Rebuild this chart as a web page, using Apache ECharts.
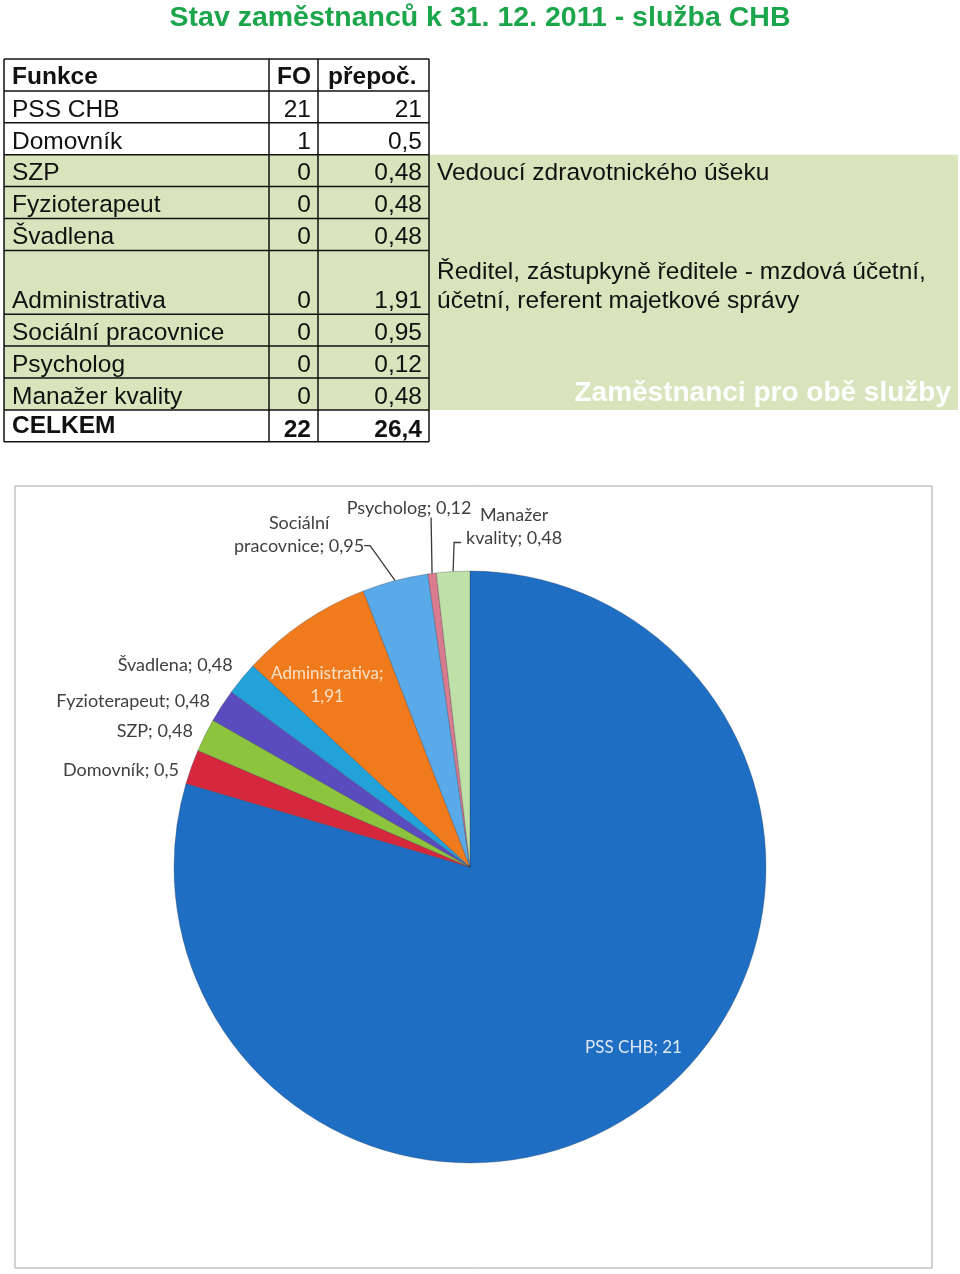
<!DOCTYPE html>
<html><head><meta charset="utf-8">
<script src="https://cdn.jsdelivr.net/npm/echarts@6/dist/echarts.min.js"></script>
<style>html,body{margin:0;padding:0;background:#fff}#c{width:960px;height:1274px}</style>
</head><body><div id="c"></div>
<script>
// ---- data ----
const titleText = 'Stav zaměstnanců k 31. 12. 2011 - služba CHB';
const headers = ['Funkce', 'FO', 'přepoč.'];
const functions = ['PSS CHB', 'Domovník', 'SZP', 'Fyzioterapeut', 'Švadlena', 'Administrativa', 'Sociální pracovnice', 'Psycholog', 'Manažer kvality'];
const foValues = [21, 1, 0, 0, 0, 0, 0, 0, 0];
const prepocValues = [21, 0.5, 0.48, 0.48, 0.48, 1.91, 0.95, 0.12, 0.48];
const totalName = 'CELKEM';
const totalFO = 22;
const totalPrepoc = 26.4;
const noteSZP = 'Vedoucí zdravotnického úšeku';
const noteAdmin = ['Ředitel, zástupkyně ředitele - mzdová účetní,', 'účetní, referent majetkové správy'];
const sharedNote = 'Zaměstnanci pro obě služby';

// ---- styles ----
const sliceColors = ['#1e6fc4', '#d6283c', '#8cc43e', '#5a4cbe', '#22a2d8', '#f07b1c', '#5aa9e8', '#d97b8e', '#bfe0a6'];
const labelBreakAfter = {5: 1, 6: 1, 8: 1}; // wrap after first word
const insideLabel = {0: '#dfe8f4', 5: '#fbe0c8'};
const insideShift = {0: [73, 60], 5: [-58, -57]};
const outsideShift = {1: [0, 6], 4: [2, -8]};
// label offsets relative to the leader start point on the slice edge: [label dx, label dy, bend dx, bend dy, end dx, end dy]
const leaderPlacement = {
  6: [-96, -46, -25, -35, -31, -35],
  7: [-23, -65, -0.5, -28, -1, -56],
  8: [61, -45, 1, -29, 8, -29]
};

function fmt(v) { return String(v).replace('.', ','); }

const font = '"Liberation Sans", Arial, sans-serif';
const FS = 24.5;
const X0 = 4, X1 = 269, X2 = 318, X3 = 429, XG = 958;
const Y0 = 59, U = 31.9;
const rowSpans = [1, 1, 1, 1, 1, 1, 2, 1, 1, 1, 1];
const rowTops = [];
let yy = Y0;
rowSpans.forEach(s => { rowTops.push(yy); yy += s * U; });
const Yend = yy;

const g = [];
g.push({type: 'rect', shape: {x: X0, y: rowTops[3], width: XG - X0, height: rowTops[10] - rowTops[3]}, style: {fill: '#d8e4bc'}, z: 1});
g.push({type: 'text', x: 480, y: 18, style: {text: titleText, font: 'bold 28.5px ' + font, fill: '#1ca64c', align: 'center', verticalAlign: 'middle'}, z: 5});
rowTops.concat([Yend]).forEach(y => g.push({type: 'line', shape: {x1: X0, y1: y, x2: X3, y2: y}, style: {stroke: '#111', lineWidth: 1.5}, z: 4}));
[X0, X1, X2, X3].forEach(x => g.push({type: 'line', shape: {x1: x, y1: Y0, x2: x, y2: Yend}, style: {stroke: '#111', lineWidth: 1.5}, z: 4}));
function txt(t, x, y, opts) {
  g.push({type: 'text', x: x, y: y, style: Object.assign({text: t, font: FS + 'px ' + font, fill: '#111', align: 'left', verticalAlign: 'middle'}, opts || {}), z: 5});
}
const bold = 'bold ' + FS + 'px ' + font;
txt(headers[0], 12, rowTops[0] + U / 2 + 2, {font: bold});
txt(headers[1], 277, rowTops[0] + U / 2 + 2, {font: bold});
txt(headers[2], 328, rowTops[0] + U / 2 + 2, {font: bold});
functions.forEach((f, i) => {
  const r = i + 1;
  const yc = rowTops[r] + (rowSpans[r] - 0.5) * U + 3;
  txt(f, 12, yc);
  txt(fmt(foValues[i]), 311, yc, {align: 'right'});
  txt(fmt(prepocValues[i]), 422, yc, {align: 'right'});
});
txt(totalName, 12, rowTops[10] + U / 2, {font: bold});
txt(fmt(totalFO), 311, rowTops[10] + U / 2 + 4, {align: 'right', font: bold});
txt(fmt(totalPrepoc), 422, rowTops[10] + U / 2 + 4, {align: 'right', font: bold});
txt(noteSZP, 437, rowTops[3] + U / 2 + 3);
txt(noteAdmin[0], 437, rowTops[6] + U / 2 + 6);
txt(noteAdmin[1], 437, rowTops[6] + 1.5 * U + 3);
txt(sharedNote, 951, rowTops[9] + U / 2 - 1, {align: 'right', font: 'bold 28px ' + font, fill: '#ffffff'});
g.push({type: 'rect', shape: {x: 15, y: 486, width: 917, height: 782}, style: {fill: 'none', stroke: '#a6a6a6', lineWidth: 1}, z: 0});

const pieData = functions.map((f, i) => {
  const d = {name: f, value: prepocValues[i], itemStyle: {color: sliceColors[i]}};
  if (insideLabel[i]) {
    d.label = {position: 'inside', color: insideLabel[i], fontSize: 17};
  }
  if (leaderPlacement[i]) {
    d.labelLine = {show: true, length: 30, length2: 5};
  }
  return d;
});

const chart = echarts.init(document.getElementById('c'));
chart.setOption({
  animation: false,
  graphic: g,
  series: [{
    type: 'pie',
    center: [470, 867],
    radius: 296,
    startAngle: 90,
    clockwise: true,
    avoidLabelOverlap: false,
    itemStyle: {borderColor: 'rgba(40,40,60,0.35)', borderWidth: 0.8},
    label: {
      show: true,
      position: 'outside',
      fontFamily: 'Lato, "Open Sans", sans-serif',
      fontSize: 18,
      color: '#404040',
      lineHeight: 23,
      formatter: p => {
        const s = p.name + '; ' + fmt(p.value);
        if (labelBreakAfter[p.dataIndex]) {
          const k = s.indexOf(' ');
          return s.slice(0, k) + '\n' + s.slice(k + 1);
        }
        return s;
      }
    },
    labelLine: {show: false, length: 8, length2: 0, lineStyle: {color: '#3a3a3a', width: 1.3}},
    labelLayout: params => {
      const i = params.dataIndex;
      const lp = leaderPlacement[i];
      if (lp && params.labelLinePoints) {
        const s = params.labelLinePoints[0];
        return {
          hideOverlap: false,
          x: s[0] + lp[0], y: s[1] + lp[1], align: 'center', verticalAlign: 'middle',
          labelLinePoints: [[s[0], s[1]], [s[0] + lp[2], s[1] + lp[3]], [s[0] + lp[4], s[1] + lp[5]]]
        };
      }
      const sh = insideShift[i] || outsideShift[i];
      if (sh) return {hideOverlap: false, dx: sh[0], dy: sh[1]};
      return {hideOverlap: false};
    },
    data: pieData
  }]
});
</script></body></html>
